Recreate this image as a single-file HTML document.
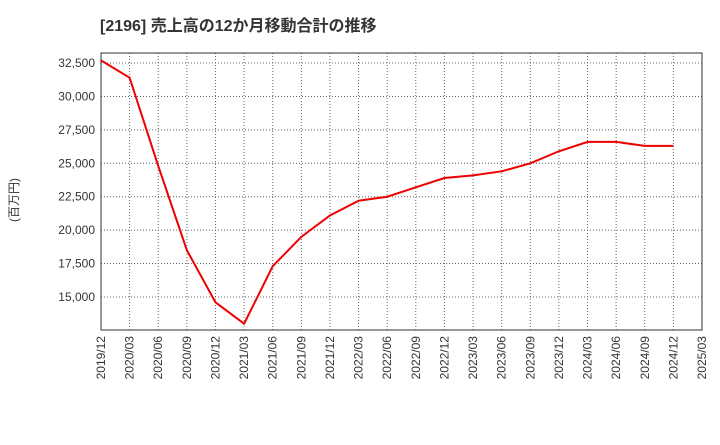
<!DOCTYPE html>
<html><head><meta charset="utf-8"><style>
body{margin:0;background:#fff;font-family:"Liberation Sans","Noto Sans CJK JP",sans-serif;}
</style></head><body>
<svg width="720" height="440" xmlns="http://www.w3.org/2000/svg">
<text x="100" y="31" font-size="16" font-weight="bold" fill="#333" font-family="Liberation Sans, Noto Sans CJK JP, sans-serif">[2196]  売上高の12か月移動合計の推移</text>
<text transform="translate(18,200) rotate(-90)" font-size="12" fill="#333" text-anchor="middle" font-family="Liberation Sans, Noto Sans CJK JP, sans-serif">(百万円)</text>
<g id="grid"></g><g id="axes"></g><g id="series"></g>
</svg>
<script>
const categories=["2019/12","2020/03","2020/06","2020/09","2020/12","2021/03","2021/06","2021/09","2021/12","2022/03","2022/06","2022/09","2022/12","2023/03","2023/06","2023/09","2023/12","2024/03","2024/06","2024/09","2024/12","2025/03"];
const values=[32700,31400,24800,18500,14600,13000,17300,19500,21100,22200,22500,23200,23900,24100,24400,25000,25900,26600,26600,26300,26300];
const yTicks=[15000,17500,20000,22500,25000,27500,30000,32500];
const L=101,R=702,T=53,B=330,ymin=12530,ymax=33250;
const ns="http://www.w3.org/2000/svg";
const x=i=>L+(R-L)*i/(categories.length-1);
const y=v=>B-(B-T)*(v-ymin)/(ymax-ymin);
const grid=document.getElementById('grid'),axes=document.getElementById('axes'),series=document.getElementById('series');
function mk(t,a,p){const e=document.createElementNS(ns,t);for(const k in a)e.setAttribute(k,a[k]);p.appendChild(e);return e;}
categories.forEach((c,i)=>{
 const g=mk('line',{x1:x(i),x2:x(i),y1:T,y2:B,stroke:'#666','stroke-dasharray':'1,2','stroke-width':1},grid);
 
 
 const t=mk('text',{transform:`translate(${x(i)+4},${B+6}) rotate(-90)`,'font-size':12,fill:'#333','text-anchor':'end'},axes);
 t.textContent=c;
 
 
});
yTicks.forEach(v=>{
 const g=mk('line',{x1:L,x2:R,y1:y(v),y2:y(v),stroke:'#666','stroke-dasharray':'1,2','stroke-width':1},grid);
 
 
 const t=mk('text',{x:L-6,y:y(v)+4,'font-size':12,fill:'#333','text-anchor':'end'},axes);
 t.textContent=v.toLocaleString('en-US');
 
 
});
const fr=mk('rect',{x:L,y:T,width:R-L,height:B-T,fill:'none',stroke:'#333','stroke-width':1},axes);


const pl=mk('polyline',{points:values.map((v,i)=>x(i)+','+y(v)).join(' '),fill:'none',stroke:'#ee0000','stroke-width':2},series);


</script>
</body></html>
